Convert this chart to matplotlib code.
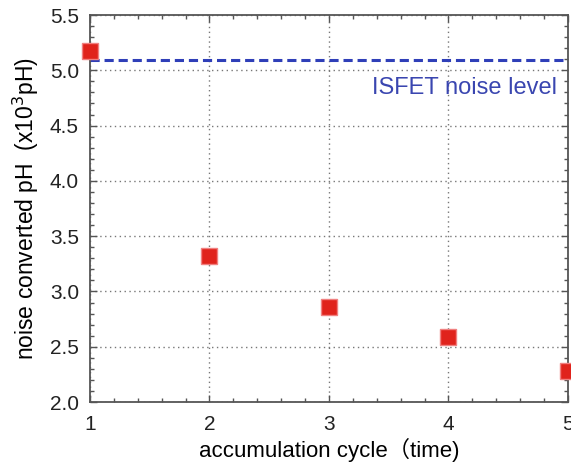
import matplotlib.pyplot as plt
from matplotlib.ticker import MultipleLocator

plt.rcParams['font.family'] = ['Liberation Sans', 'Noto Sans CJK SC', 'DejaVu Sans']

# noise vs accumulation cycles
cycles = [1, 2, 3, 4, 5]
noise_ph = [5.17, 3.32, 2.86, 2.59, 2.28]
isfet_noise = 5.09

fig = plt.figure(figsize=(5.71, 4.66), dpi=100)
ax = fig.add_axes([0.1576, 0.1373, 0.837, 0.8305])

ax.axhline(isfet_noise, color='#2f3fb8', linestyle=(0, (3, 1.6)), linewidth=2.2, zorder=2)
ax.text(4.91, 4.84, 'ISFET noise level', color='#3a46b0', fontsize=17,
        ha='right', va='center')

ax.plot(cycles, noise_ph, linestyle='none', marker='s', markersize=11.5,
        markerfacecolor='#e0231c', markeredgecolor='#f08080', markeredgewidth=1.0,
        clip_on=False, zorder=5)

ax.set_xlim(1, 5)
ax.set_ylim(2.0, 5.5)
ax.xaxis.set_major_locator(MultipleLocator(1))
ax.xaxis.set_minor_locator(MultipleLocator(0.2))
ax.yaxis.set_major_locator(MultipleLocator(0.5))
ax.yaxis.set_minor_locator(MultipleLocator(0.1))
ax.tick_params(which='both', direction='in', top=True, right=True, colors='#555555',
               labelcolor='#222222', labelsize=15)
ax.tick_params(which='major', length=5, width=1)
ax.tick_params(which='minor', length=3, width=1)
ax.tick_params(axis='x', pad=9)
ax.tick_params(axis='y', pad=8)
ax.set_yticklabels([f'{v:.1f}' for v in ax.get_yticks()])

ax.grid(True, which='major', color='#777777', linestyle=(0, (1, 2.5)), linewidth=1.0)
for s in ax.spines.values():
    s.set_color('#555555')
    s.set_linewidth(1.3)

ax.set_xlabel('accumulation cycle（time)', fontsize=16, labelpad=3)
ax.set_ylabel('noise converted pH  (x10$^{3}$pH)', fontsize=16.5, labelpad=6)

fig.savefig('out.png', dpi=100)
